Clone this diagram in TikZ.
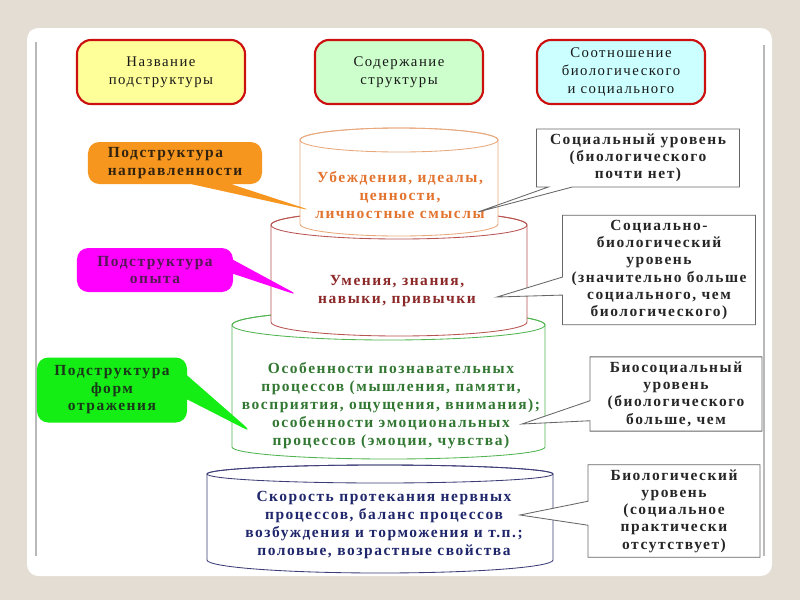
\documentclass[tikz,border=0pt]{standalone}
\usepackage{fontspec}
\setmainfont{Liberation Serif}[LetterSpace=10]
\usetikzlibrary{shapes.callouts}

\definecolor{slidebg}{RGB}{227,221,211}
\definecolor{headred}{RGB}{204,16,16}
\definecolor{headyellow}{RGB}{255,255,153}
\definecolor{headgreen}{RGB}{204,255,204}
\definecolor{headcyan}{RGB}{204,255,255}
\definecolor{bubOrange}{RGB}{247,150,30}
\definecolor{bubMagenta}{RGB}{255,0,255}
\definecolor{bubGreen}{RGB}{20,238,20}
\definecolor{lnOrange}{RGB}{232,168,124}
\definecolor{lnRed}{RGB}{184,84,80}
\definecolor{lnGreen}{RGB}{80,180,80}
\definecolor{lnBlue}{RGB}{60,60,120}
\definecolor{txOrange}{RGB}{227,116,47}
\definecolor{txRed}{RGB}{140,40,40}
\definecolor{txGreen}{RGB}{50,120,50}
\definecolor{txBlue}{RGB}{31,38,107}
\definecolor{txPurple}{RGB}{85,25,85}
\definecolor{txDkGreen}{RGB}{25,55,25}
\definecolor{txDkBrown}{RGB}{50,35,15}

% drum: left x, right x, top y, bottom y, top y radius, bottom y radius, colour
\newcommand{\drumshape}[7]{%
  \filldraw[fill=white, draw=#7, line width=0.6pt] (#1,#3) -- (#1,#4)
    arc[start angle=180, end angle=0, x radius={(#2-#1)/2}, y radius=#6]
    -- (#2,#3)
    arc[start angle=0, end angle=-180, x radius={(#2-#1)/2}, y radius=#5] -- cycle;
  \draw[#7, line width=0.6pt] ({(#1+#2)/2},#3) ellipse[x radius={(#2-#1)/2}, y radius=#5];
}

\begin{document}
\begin{tikzpicture}[x=0.25mm, y=-0.25mm,
  head/.style={draw=headred, line width=1.5pt, rounded corners=10pt, minimum width=42mm,
    minimum height=16mm, align=center, text=black!90, font=\fontsize{10.5}{12.5}\selectfont},
  bubble/.style={rectangle callout, rounded corners=8pt, draw=none,
    font=\fontsize{11}{12.5}\selectfont\bfseries},
  level/.style={rectangle callout, draw=gray!80!black, fill=white, line width=0.6pt,
    align=center, font=\fontsize{11}{12.3}\selectfont\bfseries, text=black!85},
  drumtext/.style={align=center, font=\fontsize{11}{12.8}\selectfont\bfseries}]

% slide
\fill[slidebg] (0,0) rectangle (800,600);
\fill[white, rounded corners=8pt] (27,28) rectangle (772,576);
\draw[gray!55, line width=1pt] (36,42) -- (36,556);
\draw[gray!55, line width=1pt] (764,45) -- (764,556);

% headings
\node[head, fill=headyellow] (hName) at (161,72) {Название\\подструктуры};
\node[head, fill=headgreen] (hCont) at (399,72) {Содержание\\структуры};
\node[head, fill=headcyan] (hRatio) at (621,72) {Соотношение\\биологического\\и социального};

% drums, bottom to top
\drumshape{207}{553}{474}{560}{9}{13}{lnBlue}
\drumshape{232}{545}{325}{447}{15}{12}{lnGreen}
\drumshape{271}{527}{225}{322}{14}{14}{lnRed}
\drumshape{300}{498}{140}{224}{12}{12}{lnOrange}

\node[drumtext, text=txOrange] (tBelief) at (400,195) {Убеждения, идеалы,\\ценности,\\личностные смыслы};
\node[drumtext, text=txRed] (tSkill) at (397,291) {Умения, знания,\\навыки, привычки};
\node[drumtext, text=txGreen] (tProc) at (391,406) {Особенности познавательных\\процессов (мышления, памяти,\\восприятия, ощущения, внимания);\\особенности эмоциональных\\процессов (эмоции, чувства)};
\node[drumtext, text=txBlue] (tNerve) at (384,525) {Скорость протекания нервных\\процессов, баланс процессов\\возбуждения и торможения и т.п.;\\половые, возрастные свойства};

% pointer tips
\coordinate (pOrange) at (313,211);
\coordinate (pMagenta) at (300,296);
\coordinate (pGreen) at (253,433);
\coordinate (pSoc) at (478,212);
\coordinate (pSocBio) at (497,297);
\coordinate (pBioSoc) at (522,424);
\coordinate (pBio) at (520,515);

% left bubbles
\node[bubble, fill=bubOrange, text=txDkBrown, align=left, minimum width=43.5mm,
  minimum height=10.5mm, callout pointer width=10mm,
  callout absolute pointer={(pOrange)}] (bDir) at (175,163)
  {Подструктура\\направленности};
\node[bubble, fill=bubMagenta, text=txPurple, align=center, minimum width=39mm,
  minimum height=11mm, callout pointer width=3.5mm,
  callout absolute pointer={(pMagenta)}] (bExp) at (155,270)
  {Подструктура\\опыта};
\node[bubble, fill=bubGreen, text=txDkGreen, minimum width=37.5mm, text width=32mm,
  align=center, minimum height=16.25mm, callout pointer width=6mm,
  callout absolute pointer={(pGreen)}] (bForm) at (112,390)
  {Подструктура\\форм\\отражения};

% right boxes
\node[level, minimum width=50.75mm, minimum height=14.25mm, callout pointer width=6mm,
  callout absolute pointer={(pSoc)}] (rSoc) at (638,158)
  {Социальный уровень\\(биологического\\почти нет)};
\node[level, minimum width=48.25mm, minimum height=26.25mm, callout pointer width=4.5mm,
  callout absolute pointer={(pSocBio)}] (rSocBio) at (659,270)
  {Социально-\\биологический\\уровень\\(значительно больше\\социального, чем\\биологического)};
\node[level, minimum width=43mm, minimum height=18mm, callout pointer width=5mm,
  callout absolute pointer={(pBioSoc)}] (rBioSoc) at (676,394)
  {Биосоциальный\\уровень\\(биологического\\больше, чем};
\node[level, minimum width=43mm, minimum height=22.75mm, callout pointer width=6mm,
  callout absolute pointer={(pBio)}] (rBio) at (674,511)
  {Биологический\\уровень\\(социальное\\практически\\отсутствует)};
\end{tikzpicture}
\end{document}
